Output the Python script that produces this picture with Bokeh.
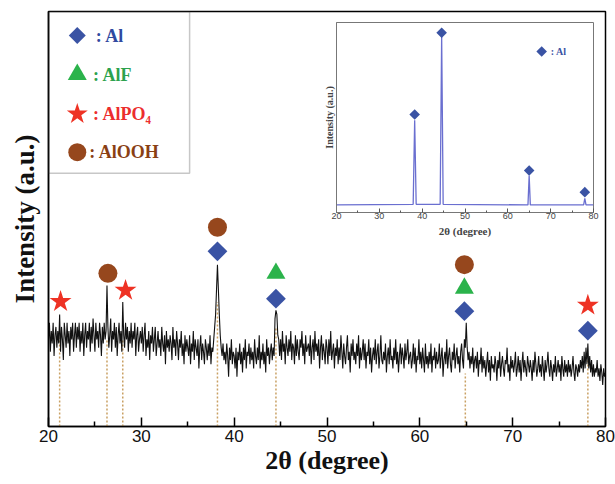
from bokeh.plotting import figure
from bokeh.models import Range1d, FixedTicker, BoxAnnotation
from bokeh.layouts import column
from bokeh.embed import file_html
from bokeh.resources import INLINE
from bokeh.core.properties import value

# ---------------- main XRD pattern (2θ = 20.0 ... 80.0, step 0.1°) ----------------
two_theta_start = 20.0
two_theta_step = 0.1
intensity = [
    21, 25, 18, 23, 20, 25, 17, 22, 24, 19,
    23, 20, 27, 18, 24, 21, 16, 25, 22, 19,
    25, 20, 23, 17, 24, 21, 25, 18, 22, 25,
    19, 24, 21, 25, 18, 23, 20, 25, 17, 22,
    25, 19, 23, 21, 25, 18, 24, 20, 26, 22,
    18, 25, 21, 23, 19, 25, 22, 17, 24, 20,
    25, 21, 23, 34, 24, 19, 22, 26, 18, 23,
    21, 25, 19, 24, 17, 22, 25, 20, 23, 18,
    30, 22, 19, 25, 21, 24, 18, 23, 20, 25,
    19, 23, 21, 25, 17, 22, 24, 18, 21, 23,
    20, 24, 18, 22, 25, 17, 21, 19, 23, 16,
    22, 20, 24, 18, 21, 24, 17, 20, 23, 19,
    21, 17, 24, 20, 18, 22, 15, 23, 19, 21,
    18, 22, 20, 16, 24, 19, 21, 17, 23, 20,
    16, 21, 19, 23, 17, 20, 15, 22, 18, 21,
    19, 17, 22, 15, 20, 18, 23, 16, 21, 19,
    17, 21, 14, 19, 22, 16, 20, 18, 15, 21,
    19, 16, 20, 17, 22, 15, 19, 18, 21, 24,
    27, 33, 39, 33, 27, 22, 19, 17, 20, 16,
    18, 15, 20, 17, 12, 19, 16, 21, 15, 18,
    17, 14, 19, 12, 18, 16, 20, 15, 18, 13,
    19, 16, 21, 14, 18, 17, 20, 15, 19, 16,
    18, 14, 21, 17, 15, 19, 16, 22, 14, 18,
    16, 20, 15, 18, 13, 21, 17, 19, 15, 18,
    20, 16, 19, 17, 26, 28, 27, 22, 21, 17,
    21, 16, 23, 18, 20, 15, 22, 19, 17, 21,
    18, 23, 16, 20, 19, 15, 22, 17, 21, 18,
    16, 21, 19, 23, 17, 20, 15, 22, 18, 19,
    20, 17, 22, 15, 19, 21, 16, 23, 18, 20,
    17, 21, 14, 19, 22, 16, 20, 18, 15, 21,
    19, 15, 21, 17, 23, 16, 18, 20, 14, 19,
    17, 21, 15, 19, 16, 22, 18, 14, 20, 17,
    15, 19, 22, 16, 18, 13, 20, 17, 21, 16,
    18, 15, 20, 17, 22, 14, 19, 16, 18, 21,
    16, 20, 14, 18, 17, 21, 15, 19, 13, 17,
    19, 16, 21, 15, 18, 20, 14, 17, 22, 16,
    15, 18, 16, 20, 13, 17, 19, 15, 21, 16,
    17, 14, 19, 16, 21, 15, 18, 13, 17, 20,
    15, 19, 17, 14, 20, 16, 18, 21, 15, 17,
    18, 14, 16, 20, 15, 19, 13, 17, 16, 21,
    15, 18, 14, 19, 16, 13, 20, 15, 17, 14,
    18, 15, 20, 13, 17, 16, 19, 14, 18, 15,
    16, 20, 14, 17, 19, 12, 16, 18, 15, 21,
    14, 17, 19, 15, 13, 18, 16, 20, 14, 17,
    19, 15, 17, 13, 18, 20, 16, 14, 21, 19,
    25, 19, 16, 18, 14, 17, 15, 19, 13, 16,
    17, 14, 18, 12, 16, 15, 19, 13, 17, 14,
    16, 12, 15, 18, 13, 16, 11, 17, 14, 15,
    13, 17, 15, 11, 16, 14, 18, 12, 15, 17,
    14, 12, 16, 15, 19, 13, 15, 11, 17, 14,
    16, 13, 15, 18, 12, 14, 17, 13, 16, 11,
    15, 18, 13, 16, 14, 12, 17, 15, 13, 16,
    14, 11, 16, 13, 18, 15, 12, 14, 17, 13,
    15, 12, 17, 14, 11, 16, 13, 15, 18, 14,
    12, 16, 14, 11, 15, 13, 17, 12, 14, 16,
    13, 15, 11, 17, 14, 12, 16, 13, 15, 12,
    16, 13, 15, 12, 14, 17, 13, 11, 15, 14,
    12, 15, 13, 16, 14, 17, 13, 18, 14, 19,
    15, 20, 14, 17, 13, 16, 12, 15, 12, 14,
    13, 16, 12, 14, 11, 15, 13, 10, 14, 12,
    13,
]
two_theta = [round(two_theta_start + i * two_theta_step, 1) for i in range(len(intensity))]

# dotted guide lines under the indexed reflections
peak_pos = [21.2, 26.3, 28.0, 38.2, 44.5, 64.9, 78.1]
peak_top = [21.4, 20.7, 21.2, 30.0, 23.6, 12.8, 16.4]

# phase markers
al_x, al_y = [38.2, 44.5, 64.8, 78.1], [42.2, 30.8, 27.8, 23.1]
alf_x, alf_y = [44.5, 64.8], [36.9, 33.3]
alpo4_x, alpo4_y = [21.3, 28.3, 78.1], [30.1, 32.8, 29.2]
alooh_x, alooh_y = [26.4, 38.2, 64.8], [36.9, 48.0, 39.0]

# legend
legend_labels = [": Al", ": AlF", ": AlPO\u2084", ": AlOOH"]
legend_colors = ["#2f4aa0", "#2ca24e", "#ec2d2d", "#8a3f14"]
legend_marker_y = [94.2, 84.8, 75.3, 66.1]
legend_text_x = [25.1, 24.8, 24.8, 24.4]

x_ticks = [20, 30, 40, 50, 60, 70, 80]
x_minor = [25, 35, 45, 55, 65, 75]

# ---------------- inset: pristine Al ----------------
inset_x = [20.0, 37.9, 38.25, 38.6, 44.2, 44.55, 44.9, 64.7, 64.98, 65.25, 77.7, 77.97, 78.25, 80.0]
inset_y = [4.0, 4.3, 48.5, 4.3, 4.3, 93.0, 4.3, 4.0, 19.5, 4.0, 4.0, 7.5, 4.0, 4.0]
inset_al_x = [38.25, 44.55, 64.98, 77.97]
inset_al_y = [51.6, 94.6, 22.1, 10.7]

BLUE = "#3a53a4"
GREEN = "#2bb34b"
RED = "#ee3224"
BROWN = "#96471d"
SERIF = "Liberation Serif"
SANS = "Liberation Sans"

p = figure(width=615, height=484, x_range=Range1d(20, 80), y_range=Range1d(0, 100),
           output_backend="svg", toolbar_location=None,
           min_border_left=48, min_border_right=10, min_border_top=11, min_border_bottom=58)
p.background_fill_color = "white"
p.border_fill_color = "white"
p.outline_line_color = "black"
p.outline_line_width = 1.5
p.xgrid.visible = False
p.ygrid.visible = False

xa = p.xaxis[0]
xa.ticker = FixedTicker(ticks=x_ticks, minor_ticks=x_minor)
xa.major_tick_in = 9
xa.major_tick_out = 0
xa.minor_tick_in = 5
xa.minor_tick_out = 0
xa.major_tick_line_width = 1.5
xa.minor_tick_line_width = 1.5
xa.axis_line_width = 1.5
xa.major_label_text_font = SANS
xa.major_label_text_font_size = "17px"
xa.major_label_text_color = "#111111"
xa.major_label_standoff = 3
xa.axis_label = "2\u03b8 (degree)"
xa.axis_label_text_font = SERIF
xa.axis_label_text_font_style = "bold"
xa.axis_label_text_font_size = "26px"
xa.axis_label_text_color = "#111111"
xa.axis_label_standoff = 1

ya = p.yaxis[0]
ya.ticker = FixedTicker(ticks=[])
ya.major_tick_in = 0
ya.major_tick_out = 0
ya.minor_tick_in = 0
ya.minor_tick_out = 0
ya.axis_line_width = 1.5
ya.axis_label = "Intensity (a.u.)"
ya.axis_label_text_font = SERIF
ya.axis_label_text_font_style = "bold"
ya.axis_label_text_font_size = "27px"
ya.axis_label_text_color = "#111111"
ya.axis_label_standoff = 9

p.segment(x0=peak_pos, y0=[0] * len(peak_pos), x1=peak_pos, y1=peak_top,
          line_color="#c9a063", line_dash="2 2", line_width=1.5)
p.line(two_theta, intensity, line_color="#111111", line_width=1.1)

p.scatter(al_x, al_y, marker="square", angle=0.785398, size=14, fill_color=BLUE, line_color=None)
p.scatter(alf_x, alf_y, marker="triangle", size=19, fill_color=GREEN, line_color=None)
p.scatter(alpo4_x, alpo4_y, marker="star", size=23, fill_color=RED, line_color=None)
p.scatter(alooh_x, alooh_y, marker="circle", size=19, fill_color=BROWN, line_color=None)

# legend box
p.add_layout(BoxAnnotation(left=20, right=35.2, top=100, bottom=61,
                           fill_color=None, line_color="#444444", line_width=1.5))
lx = 23.1
p.scatter([lx], [legend_marker_y[0]], marker="square", angle=0.785398, size=12, fill_color=BLUE, line_color=None)
p.scatter([lx], [legend_marker_y[1]], marker="triangle", size=19, fill_color=GREEN, line_color=None)
p.scatter([lx], [legend_marker_y[2]], marker="star", size=22, fill_color=RED, line_color=None)
p.scatter([lx], [legend_marker_y[3]], marker="circle", size=18, fill_color=BROWN, line_color=None)
p.text(x=legend_text_x, y=legend_marker_y, text=legend_labels, text_color=legend_colors,
       text_font=value(SERIF), text_font_style="bold", text_font_size=value("18px"),
       text_baseline="middle", text_align="left")

# ---------------- inset figure ----------------
p2 = figure(frame_width=257, frame_height=190, x_range=Range1d(20, 80), y_range=Range1d(0, 100),
            output_backend="svg", toolbar_location=None,
            min_border_left=48, min_border_right=10, min_border_top=8, min_border_bottom=38)
p2.background_fill_color = "white"
p2.border_fill_color = None
p2.outline_line_color = "#777777"
p2.outline_line_width = 1
p2.xgrid.visible = False
p2.ygrid.visible = False
ixa = p2.xaxis[0]
ixa.ticker = FixedTicker(ticks=x_ticks, minor_ticks=x_minor)
ixa.major_tick_in = 4
ixa.major_tick_out = 0
ixa.minor_tick_in = 2
ixa.minor_tick_out = 0
ixa.axis_line_color = "#777777"
ixa.major_tick_line_color = "#555555"
ixa.minor_tick_line_color = "#555555"
ixa.major_label_text_font = SANS
ixa.major_label_text_font_size = "9px"
ixa.major_label_text_color = "#444444"
ixa.major_label_standoff = 0
ixa.axis_label = "2\u03b8 (degree)"
ixa.axis_label_text_font = SERIF
ixa.axis_label_text_font_style = "bold"
ixa.axis_label_text_font_size = "11px"
ixa.axis_label_standoff = 3
iya = p2.yaxis[0]
iya.ticker = FixedTicker(ticks=[])
iya.major_tick_in = 0
iya.major_tick_out = 0
iya.minor_tick_in = 0
iya.minor_tick_out = 0
iya.axis_line_color = "#777777"
iya.axis_label = "Intensity (a.u.)"
iya.axis_label_text_font = SERIF
iya.axis_label_text_font_style = "bold"
iya.axis_label_text_font_size = "10px"
iya.axis_label_standoff = 2

p2.line(inset_x, inset_y, line_color="#6a6fd0", line_width=1.3)
p2.scatter(inset_al_x, inset_al_y, marker="square", angle=0.785398, size=7.5, fill_color=BLUE, line_color=None)
p2.scatter([67.9], [84.7], marker="square", angle=0.785398, size=7.5, fill_color=BLUE, line_color=None)
p2.text(x=[70.0], y=[84.7], text=[": Al"], text_color=BLUE, text_font=value(SERIF),
        text_font_style="bold", text_font_size=value("10px"), text_baseline="middle")

p2.margin = (-470, 0, 0, 288)
layout = column(p, p2, spacing=0)

open("out.html", "w").write(file_html(layout, INLINE))
